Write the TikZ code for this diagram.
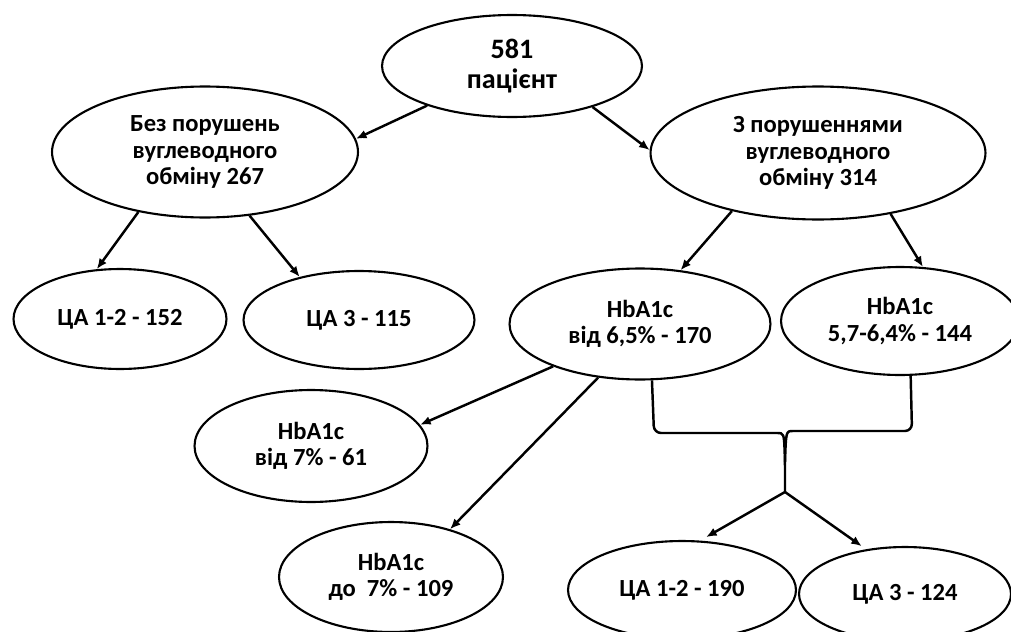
\documentclass[tikz,border=0pt]{standalone}
\usepackage{fontspec}
\setmainfont{Carlito}
\usepackage{tikz}
\usetikzlibrary{shapes.geometric,arrows.meta}

\begin{document}
\begin{tikzpicture}[
  x=0.02cm, y=-0.02cm,
  oval/.style={draw, ellipse, line width=1.2pt, inner sep=0pt, align=center, font=\bfseries\fontsize{14}{15}\selectfont},
  arr/.style={line width=1.4pt, -{Latex[length=6pt,width=5pt]}},
  leg/.style={line width=1.4pt, rounded corners=4pt}
]
  \useasboundingbox (0,0) rectangle (1011,632);

  \node[oval, minimum width=5.2cm, minimum height=2.04cm, font=\bfseries\fontsize{16}{17}\selectfont] (top) at (512,66) {581\\пацієнт};
  \node[oval, minimum width=6.12cm, minimum height=2.62cm] (bez) at (205,152) {Без порушень\\вуглеводного\\обміну 267};
  \node[oval, minimum width=6.7cm, minimum height=2.66cm] (zp) at (818,153) {З порушеннями\\вуглеводного\\обміну 314};

  \node[oval, minimum width=4.26cm, minimum height=2.0cm] (ca152) at (120,319) {ЦА 1-2 - 152};
  \node[oval, minimum width=4.62cm, minimum height=1.96cm] (ca115) at (359,320) {ЦА 3 - 115};
  \node[oval, minimum width=5.22cm, minimum height=2.22cm] (hb65) at (640,324) {HbA1c\\від 6,5\% - 170};
  \node[oval, minimum width=4.76cm, minimum height=2.16cm] (hb57) at (900,321) {HbA1c\\5,7-6,4\% - 144};

  \node[oval, minimum width=4.66cm, minimum height=2.24cm] (hb7) at (311,446) {HbA1c\\від 7\% - 61};
  \node[oval, minimum width=4.48cm, minimum height=2.2cm] (do7) at (391,577) {HbA1c\\до\ \ 7\% - 109};
  \node[oval, minimum width=4.56cm, minimum height=1.96cm] (ca190) at (682,590) {ЦА 1-2 - 190};
  \node[oval, minimum width=4.24cm, minimum height=1.88cm] (ca124) at (905,594) {ЦА 3 - 124};

  % arrows
  \draw[arr] (top.205) -- (bez.5);
  \draw[arr] (top.333) -- (zp.179);
  \draw[arr] (bez.222) -- (ca152.115);
  \draw[arr] (bez.305) -- (ca115.144);
  \draw[arr] (zp.214) -- (hb65.53);
  \draw[arr] (zp.320) -- (hb57.67);
  \draw[arr] (hb65.206) -- (hb7.11);
  \draw[arr] (hb65.232) -- (do7.39);

  % merge of both HbA1c groups
  \coordinate (mrg) at (785,492);
  \draw[leg] (hb65.282) -- (654,433) -- (770,433) .. controls (784,433) .. (785,462) -- (mrg);
  \draw[leg] (hb57.281) -- (912,431) -- (800,431) .. controls (786,431) .. (785,462);
  \draw[arr, shorten >=4pt] (mrg) -- (ca190.70);
  \draw[arr, shorten >=3pt] (mrg) -- (ca124.131);
\end{tikzpicture}
\end{document}
